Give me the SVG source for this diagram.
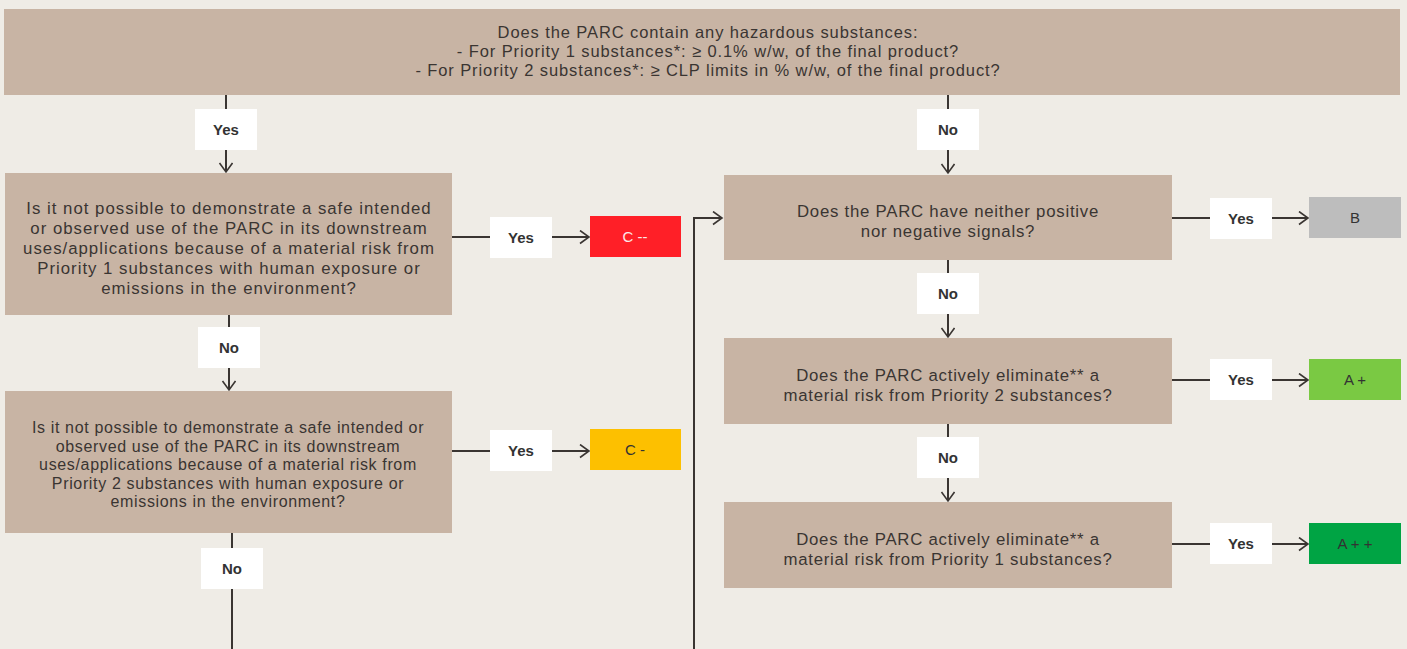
<svg xmlns="http://www.w3.org/2000/svg" width="1407" height="649" viewBox="0 0 1407 649">
<defs>
<style>
.q{fill:#C8B4A4}
.lbl{fill:#FFFFFF}
.t{font-family:"Liberation Sans",Arial,sans-serif;font-size:16.8px;letter-spacing:0.75px;fill:#3a3532;text-anchor:middle}
.t1{font-family:"Liberation Sans",Arial,sans-serif;font-size:16.8px;letter-spacing:1px;fill:#3a3532;text-anchor:middle}
.t2{font-family:"Liberation Sans",Arial,sans-serif;font-size:16px;letter-spacing:0.65px;fill:#3a3532;text-anchor:middle}
.t0{font-family:"Liberation Sans",Arial,sans-serif;font-size:16.5px;letter-spacing:0.9px;fill:#3a3532;text-anchor:middle}
.lt{font-family:"Liberation Sans",Arial,sans-serif;font-size:15px;font-weight:bold;fill:#333;text-anchor:middle}
.rt{font-family:"Liberation Sans",Arial,sans-serif;font-size:15px;fill:#333;text-anchor:middle}
.c{fill:none;stroke:#3a3532;stroke-width:2}
</style>
<marker id="ah" markerWidth="12" markerHeight="16" refX="10" refY="7" orient="auto" markerUnits="userSpaceOnUse">
<path d="M1,0.5 L10,7 L1,13.5" fill="none" stroke="#3a3532" stroke-width="1.6"/>
</marker>
</defs>
<rect width="1407" height="649" fill="#EFECE6"/>

<g id="connectors">
<path class="c" d="M226,95 V109"/>
<path class="c" d="M226,150 V172" marker-end="url(#ah)"/>
<path class="c" d="M452,237 H490"/>
<path class="c" d="M552,237 H589" marker-end="url(#ah)"/>
<path class="c" d="M229,315 V327"/>
<path class="c" d="M229,368 V390" marker-end="url(#ah)"/>
<path class="c" d="M452,451 H490"/>
<path class="c" d="M552,451 H589" marker-end="url(#ah)"/>
<path class="c" d="M232,533 V548"/>
<path class="c" d="M232,589 V649"/>
<path class="c" d="M694,649 V218 H722" marker-end="url(#ah)"/>
<path class="c" d="M948,95 V109"/>
<path class="c" d="M948,150 V173" marker-end="url(#ah)"/>
<path class="c" d="M1172,218 H1210"/>
<path class="c" d="M1272,218 H1308" marker-end="url(#ah)"/>
<path class="c" d="M948,260 V273"/>
<path class="c" d="M948,314 V337" marker-end="url(#ah)"/>
<path class="c" d="M1172,380 H1210"/>
<path class="c" d="M1272,380 H1308" marker-end="url(#ah)"/>
<path class="c" d="M948,424 V437"/>
<path class="c" d="M948,478 V501" marker-end="url(#ah)"/>
<path class="c" d="M1172,544 H1210"/>
<path class="c" d="M1272,544 H1308" marker-end="url(#ah)"/>
</g>

<g id="q0">
<rect class="q" x="4" y="9" width="1396" height="86"/>
<text class="t0" x="708" y="38">Does the PARC contain any hazardous substances:</text>
<text class="t0" x="708" y="57">- For Priority 1 substances*: ≥ 0.1% w/w, of the final product?</text>
<text class="t0" x="708" y="76">- For Priority 2 substances*: ≥ CLP limits in % w/w, of the final product?</text>
</g>

<g id="l-yes1"><rect class="lbl" x="195" y="109" width="62" height="41"/><text class="lt" x="226" y="135">Yes</text></g>
<g id="l-no0"><rect class="lbl" x="917" y="109" width="62" height="41"/><text class="lt" x="948" y="135">No</text></g>

<g id="q1">
<rect class="q" x="5" y="173" width="447" height="142"/>
<text class="t1" x="229" y="214">Is it not possible to demonstrate a safe intended</text>
<text class="t1" x="229" y="234">or observed use of the PARC in its downstream</text>
<text class="t1" x="229" y="254">uses/applications because of a material risk from</text>
<text class="t1" x="229" y="274">Priority 1 substances with human exposure or</text>
<text class="t1" x="229" y="294">emissions in the environment?</text>
</g>
<g id="l-yes2"><rect class="lbl" x="490" y="217" width="62" height="41"/><text class="lt" x="521" y="243">Yes</text></g>
<g id="r-cmm"><rect x="590" y="216" width="91" height="41" fill="#FF1F27"/><text class="rt" x="635" y="242" style="fill:#FBE9E9">C --</text></g>

<g id="l-no1"><rect class="lbl" x="198" y="327" width="62" height="41"/><text class="lt" x="229" y="353">No</text></g>

<g id="q2">
<rect class="q" x="5" y="391" width="447" height="142"/>
<text class="t2" x="228" y="433">Is it not possible to demonstrate a safe intended or</text>
<text class="t2" x="228" y="452">observed use of the PARC in its downstream</text>
<text class="t2" x="228" y="470">uses/applications because of a material risk from</text>
<text class="t2" x="228" y="489">Priority 2 substances with human exposure or</text>
<text class="t2" x="228" y="507">emissions in the environment?</text>
</g>
<g id="l-yes3"><rect class="lbl" x="490" y="430" width="62" height="41"/><text class="lt" x="521" y="456">Yes</text></g>
<g id="r-cm"><rect x="590" y="429" width="91" height="41" fill="#FDC000"/><text class="rt" x="635" y="455">C -</text></g>

<g id="l-no2"><rect class="lbl" x="201" y="548" width="62" height="41"/><text class="lt" x="232" y="574">No</text></g>

<g id="q3">
<rect class="q" x="724" y="175" width="448" height="85"/>
<text class="t" x="948" y="217">Does the PARC have neither positive</text>
<text class="t" x="948" y="237">nor negative signals?</text>
</g>
<g id="l-yes4"><rect class="lbl" x="1210" y="198" width="62" height="41"/><text class="lt" x="1241" y="224">Yes</text></g>
<g id="r-b"><rect x="1309" y="197" width="92" height="41" fill="#BDBDBD"/><text class="rt" x="1355" y="223">B</text></g>

<g id="l-no3"><rect class="lbl" x="917" y="273" width="62" height="41"/><text class="lt" x="948" y="299">No</text></g>

<g id="q4">
<rect class="q" x="724" y="338" width="448" height="86"/>
<text class="t" x="948" y="381">Does the PARC actively eliminate** a</text>
<text class="t" x="948" y="401">material risk from Priority 2 substances?</text>
</g>
<g id="l-yes5"><rect class="lbl" x="1210" y="359" width="62" height="41"/><text class="lt" x="1241" y="385">Yes</text></g>
<g id="r-ap"><rect x="1309" y="359" width="92" height="41" fill="#7AC943"/><text class="rt" x="1355" y="385">A +</text></g>

<g id="l-no4"><rect class="lbl" x="917" y="437" width="62" height="41"/><text class="lt" x="948" y="463">No</text></g>

<g id="q5">
<rect class="q" x="724" y="502" width="448" height="86"/>
<text class="t" x="948" y="545">Does the PARC actively eliminate** a</text>
<text class="t" x="948" y="565">material risk from Priority 1 substances?</text>
</g>
<g id="l-yes6"><rect class="lbl" x="1210" y="523" width="62" height="41"/><text class="lt" x="1241" y="549">Yes</text></g>
<g id="r-app"><rect x="1309" y="523" width="92" height="41" fill="#00A444"/><text class="rt" x="1355" y="549">A + +</text></g>
</svg>
